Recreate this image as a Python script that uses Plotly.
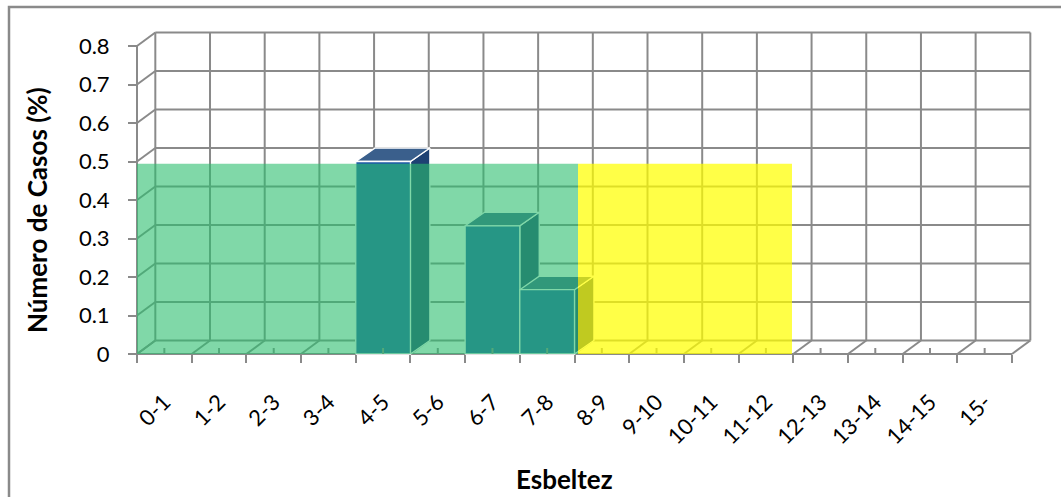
import plotly.graph_objects as go

# Slenderness classes and share of cases in each class
categories = ["0-1", "1-2", "2-3", "3-4", "4-5", "5-6", "6-7", "7-8",
              "8-9", "9-10", "10-11", "11-12", "12-13", "13-14", "14-15", "15-"]
casos = [0, 0, 0, 0, 0.5, 0, 0.333, 0.167, 0, 0, 0, 0, 0, 0, 0, 0]
y_ticks = [0, 0.1, 0.2, 0.3, 0.4, 0.5, 0.6, 0.7, 0.8]
y_tick_labels = ["0", "0.1", "0.2", "0.3", "0.4", "0.5", "0.6", "0.7", "0.8"]

# Pseudo-3D projection: depth offset of the walls and of the columns (data units)
DX, DY = 0.335, 0.035
BAR_DX, BAR_DY = 0.355, 0.035
Y_TOP = y_ticks[-1]
N = len(categories)

# Pixel layout of the plotting area
X_UNIT, Y_UNIT = 54.6875, 385.0
ORIGIN_X, ORIGIN_Y = 137, 354
PLOT_L, PLOT_R, PLOT_T, PLOT_B = 130, 1040, 26, 360
W, H = 1061, 497
x_range = [-(ORIGIN_X - PLOT_L) / X_UNIT, (PLOT_R - ORIGIN_X) / X_UNIT]
y_range = [-(PLOT_B - ORIGIN_Y) / Y_UNIT, (ORIGIN_Y - PLOT_T) / Y_UNIT]


def px_x(p):
    return (p - PLOT_L) / (PLOT_R - PLOT_L)


def px_y(p):
    return (PLOT_B - p) / (PLOT_B - PLOT_T)


GRID = "#8a8a8a"
FONT = "Lato"

shapes = []


def seg(x0, y0, x1, y1, layer="below", color=GRID, width=2):
    shapes.append(dict(type="line", xref="x", yref="y", x0=x0, y0=y0, x1=x1, y1=y1,
                       layer=layer, line=dict(color=color, width=width)))


# back wall
for k in range(N + 1):
    seg(k + DX, DY, k + DX, Y_TOP + DY)
for t in y_ticks:
    seg(DX, t + DY, N + DX, t + DY)
# side wall and floor
for t in y_ticks:
    seg(0, t, DX, t + DY)
for k in range(N + 1):
    seg(k, 0, k + DX, DY)
# front edges
seg(0, 0, 0, Y_TOP)
seg(0, 0, N, 0)

fig = go.Figure()

FRONT = "#1e5aa7"
SIDE = "#1e4173"
TOP = "#3a5f8c"
EDGE = dict(color="white", width=1.3)


def face(xs, ys, color):
    fig.add_trace(go.Scatter(x=xs + [xs[0]], y=ys + [ys[0]], mode="lines", fill="toself",
                             fillcolor=color, line=EDGE, hoverinfo="skip", showlegend=False))


for i, v in enumerate(casos):
    if v <= 0:
        continue
    x0, x1 = i, i + 1
    face([x1, x1 + BAR_DX, x1 + BAR_DX, x1], [0, BAR_DY, v + BAR_DY, v], SIDE)
    face([x0, x1, x1 + BAR_DX, x0 + BAR_DX], [v, v, v + BAR_DY, v + BAR_DY], TOP)
    face([x0, x1, x1, x0], [0, 0, v, v], FRONT)

# small floor ticks at the middle of each class
for i in range(N):
    seg(i + 0.5, 0, i + 0.5, 6 / Y_UNIT, layer="above")

# highlighted slenderness ranges
BAND_H = 0.494
shapes.append(dict(type="rect", xref="x", yref="y", x0=0, x1=8.064, y0=0, y1=BAND_H,
                   layer="above", line=dict(width=0), fillcolor="rgba(43,190,110,0.6)"))
shapes.append(dict(type="rect", xref="x", yref="y", x0=8.064, x1=11.977, y0=0, y1=BAND_H,
                   layer="above", line=dict(width=0), fillcolor="rgba(255,255,0,0.72)"))

# chart border
shapes.append(dict(type="rect", xref="paper", yref="paper",
                   x0=px_x(9), x1=px_x(1080), y0=px_y(520), y1=px_y(7),
                   layer="above", line=dict(color=GRID, width=2.5), fillcolor="rgba(0,0,0,0)"))

annotations = [
    dict(text="<b>Número de Casos (%)</b>", xref="paper", yref="paper",
         x=px_x(37), y=px_y(210), textangle=-90, showarrow=False,
         xanchor="center", yanchor="middle", font=dict(family=FONT, size=26, color="black")),
    dict(text="<b>Esbeltez</b>", xref="paper", yref="paper",
         x=px_x(564), y=px_y(479), showarrow=False,
         xanchor="center", yanchor="middle", font=dict(family=FONT, size=26, color="black")),
]

fig.update_layout(
    width=W, height=H,
    margin=dict(l=PLOT_L, r=W - PLOT_R, t=PLOT_T, b=H - PLOT_B, pad=0),
    paper_bgcolor="white", plot_bgcolor="white",
    shapes=shapes, annotations=annotations, showlegend=False,
    xaxis=dict(range=x_range, domain=[0, 1], anchor="free", position=px_y(ORIGIN_Y),
               showgrid=False, zeroline=False, showline=False,
               tickmode="array", tickvals=[i + 0.5 for i in range(N)], ticktext=categories,
               ticks="", tickangle=-45, ticklabelstandoff=30,
               tickfont=dict(family=FONT, size=22, color="black"),
               minor=dict(tickmode="array", tickvals=list(range(N + 1)), ticks="outside",
                          ticklen=8, tickwidth=2, tickcolor=GRID, showgrid=False)),
    yaxis=dict(range=y_range, domain=[0, 1], anchor="free", position=px_x(ORIGIN_X),
               showgrid=False, zeroline=False, showline=False,
               tickmode="array", tickvals=y_ticks, ticktext=y_tick_labels,
               ticks="outside", ticklen=9, tickwidth=2, tickcolor=GRID,
               ticklabelstandoff=14,
               tickfont=dict(family=FONT, size=22, color="black")),
)

fig.write_html("out.html")
